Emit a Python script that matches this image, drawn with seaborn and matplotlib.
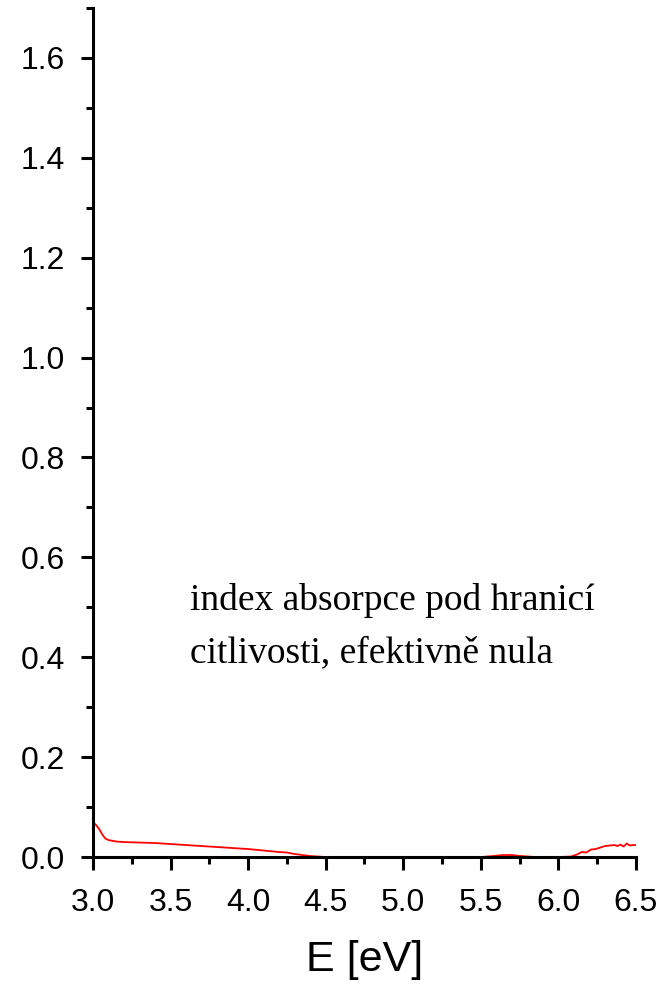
import matplotlib
matplotlib.use("Agg")
import matplotlib.pyplot as plt
from matplotlib.ticker import MultipleLocator, FormatStrFormatter
import seaborn as sns
import pandas as pd

# Photon energy (eV) and measured absorption index k
energy = [3.00, 3.02, 3.04, 3.06, 3.08, 3.10, 3.15, 3.20, 3.30, 3.40, 3.50,
          3.60, 3.70, 3.80, 3.90, 4.00, 4.10, 4.20, 4.25, 4.30, 4.35, 4.40,
          4.45, 4.50, 4.70, 4.90, 5.10, 5.30, 5.50, 5.58, 5.64, 5.70, 5.76,
          5.85, 6.00, 6.08, 6.12, 6.15, 6.18, 6.21, 6.24, 6.27, 6.30, 6.33,
          6.36, 6.38, 6.40, 6.42, 6.44, 6.46, 6.48, 6.50]
k_index = [0.070, 0.064, 0.056, 0.045, 0.037, 0.034, 0.031, 0.030, 0.029,
           0.028, 0.026, 0.024, 0.022, 0.020, 0.018, 0.016, 0.013, 0.010,
           0.009, 0.006, 0.004, 0.002, 0.001, 0.000, 0.000, 0.000, 0.000,
           0.000, 0.000, 0.002, 0.004, 0.004, 0.002, 0.000, 0.000, 0.001,
           0.005, 0.010, 0.009, 0.015, 0.016, 0.019, 0.022, 0.023, 0.024,
           0.022, 0.025, 0.021, 0.027, 0.023, 0.024, 0.024]

note_lines = ["index absorpce pod hranicí", "citlivosti, efektivně nula"]

df = pd.DataFrame({"E": energy, "k": k_index})

sns.set_theme(style="ticks")
plt.rcParams["font.family"] = ["Liberation Sans", "DejaVu Sans"]

fig = plt.figure(figsize=(6.67, 9.86), dpi=100)
ax = fig.add_axes([0.1394, 0.1308, 0.8141, 0.8611])

sns.lineplot(data=df, x="E", y="k", color="#ff0000", linewidth=1.3, ax=ax)

ax.set_xlim(3.0, 6.5)
ax.set_ylim(0.0, 1.7)
ax.xaxis.set_major_locator(MultipleLocator(0.5))
ax.xaxis.set_minor_locator(MultipleLocator(0.25))
ax.yaxis.set_major_locator(MultipleLocator(0.2))
ax.yaxis.set_minor_locator(MultipleLocator(0.1))
ax.xaxis.set_major_formatter(FormatStrFormatter("%.1f"))
ax.yaxis.set_major_formatter(FormatStrFormatter("%.1f"))

for side in ("top", "right"):
    ax.spines[side].set_visible(False)
for side in ("left", "bottom"):
    ax.spines[side].set_linewidth(2.2)
    ax.spines[side].set_color("black")

ax.tick_params(which="major", direction="out", length=9, width=2.2,
               labelsize=23, colors="black")
ax.tick_params(axis="x", which="major", pad=13)
ax.tick_params(axis="y", which="major", pad=11)
ax.tick_params(which="minor", direction="out", length=5, width=2.2,
               colors="black")

ax.set_xlabel("E [eV]", fontsize=31, labelpad=16, color="black")
ax.set_ylabel("")

for i, line in enumerate(note_lines):
    ax.text(3.625, 0.494 - i * 0.104, line, fontsize=27,
            family=["Liberation Serif", "DejaVu Serif"], va="baseline",
            ha="left", color="black")

fig.savefig("out.png", dpi=100)
